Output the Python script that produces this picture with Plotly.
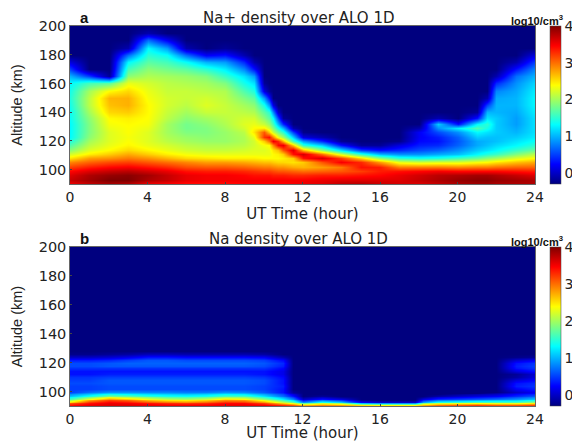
import numpy as np
import plotly.graph_objects as go

FLOOR = -0.3
TICK_HOURS = [0, 4, 8, 12, 16, 20, 24]
TICK_ALT = [100, 120, 140, 160, 180, 200]
TICK_CBAR = [0, 1, 2, 3, 4]
JET = [[0, "#00007f"], [0.125, "#0000ff"], [0.375, "#00ffff"], [0.625, "#ffff00"],
       [0.875, "#ff0000"], [1, "#7f0000"]]

# ---- Panel a: Na+ (log10 density)
alt_a = [90, 93, 96, 99, 102, 105, 108, 111, 114, 117, 120, 123, 126, 129, 132, 136, 140, 145,
         150, 155, 160, 165, 170, 175, 180, 185, 190, 195, 200]
hours_a = [0, 1, 2, 3, 4, 5, 6, 7, 8, 9, 9.5, 10, 10.25, 10.5, 10.75, 11, 11.5, 12, 13, 14, 15, 16,
           17, 18, 19, 20, 21, 21.5, 22, 23, 24]
profiles_a = [
    [3.5, 3.7, 3.6, 3.45, 3.2, 2.9, 2.5, 2.2, 1.9, 1.65, 1.45, 1.3, 1.3, 1.3, 1.3, 1.35, 1.35, 1.4, 1.45, 1.4, 1.3, 1.0, .5, .1, -.3],
    [3.7, 3.85, 3.8, 3.6, 3.35, 3.05, 2.8, 2.45, 2.25, 2.1, 2.0, 1.9, 1.85, 1.85, 1.85, 1.9, 2.0, 2.1, 2.1, 2.0, 1.6, .5, -.3],
    [3.8, 4.0, 3.9, 3.7, 3.45, 3.15, 2.85, 2.6, 2.4, 2.3, 2.25, 2.25, 2.25, 2.3, 2.35, 2.4, 2.55, 2.65, 2.7, 2.4, 1.7, -.2, -.3],
    [3.75, 4.0, 3.95, 3.75, 3.5, 3.2, 2.95, 2.75, 2.55, 2.42, 2.38, 2.35, 2.38, 2.38, 2.4, 2.45, 2.6, 2.72, 2.72, 2.55, 2.3, 1.9, 1.6, 1.3, .7, -.1, -.3],
    [3.5, 3.8, 3.85, 3.65, 3.4, 3.1, 2.85, 2.6, 2.42, 2.3, 2.25, 2.25, 2.25, 2.3, 2.35, 2.38, 2.4, 2.4, 2.35, 2.3, 2.2, 2.05, 1.9, 1.7, 1.5, 1.3, .7, -.1, -.3],
    [3.45, 3.7, 3.7, 3.55, 3.3, 3.0, 2.7, 2.45, 2.3, 2.2, 2.1, 2.05, 2.0, 2.0, 2.0, 2.1, 2.15, 2.2, 2.2, 2.15, 2.1, 2.0, 1.8, 1.6, 1.35, .9, .2, -.3],
    [3.4, 3.55, 3.55, 3.4, 3.15, 2.9, 2.55, 2.35, 2.2, 2.1, 2.0, 1.95, 1.85, 1.8, 1.8, 1.9, 2.0, 2.1, 2.15, 2.15, 2.05, 1.95, 1.7, 1.35, .7, -.1, -.3],
    [3.4, 3.5, 3.5, 3.35, 3.1, 2.8, 2.5, 2.3, 2.15, 2.05, 1.95, 1.9, 1.85, 1.85, 1.9, 2.0, 2.15, 2.25, 2.2, 2.1, 2.0, 1.85, 1.5, 1.0, .2, -.3],
    [3.4, 3.5, 3.5, 3.35, 3.1, 2.8, 2.45, 2.3, 2.15, 2.05, 1.95, 1.95, 1.95, 2.0, 2.05, 2.1, 2.15, 2.15, 2.1, 2.05, 1.85, 1.55, 1.25, .9, .3, -.2, -.3],
    [3.45, 3.5, 3.45, 3.3, 3.05, 2.75, 2.45, 2.3, 2.2, 2.1, 2.05, 2.05, 2.1, 2.2, 2.25, 2.2, 2.1, 2.0, 1.85, 1.65, 1.4, 1.2, .8, .4, -.1, -.3],
    [3.45, 3.5, 3.4, 3.25, 3.0, 2.7, 2.45, 2.3, 2.25, 2.2, 2.2, 2.3, 2.5, 2.4, 2.3, 2.2, 2.05, 1.9, 1.7, 1.45, 1.2, .9, .3, -.1, -.3],
    [3.45, 3.5, 3.4, 3.2, 2.95, 2.65, 2.4, 2.3, 2.25, 2.35, 2.6, 3.25, 3.1, 2.45, 2.15, 1.9, 1.7, 1.4, .9, .1, -.2, -.3],
    [3.45, 3.5, 3.4, 3.2, 2.95, 2.65, 2.4, 2.3, 2.3, 2.4, 3.0, 3.4, 2.6, 2.2, 1.95, 1.7, 1.5, .9, .3, -.2, -.3],
    [3.45, 3.5, 3.35, 3.15, 2.9, 2.6, 2.4, 2.4, 2.5, 2.9, 3.55, 2.9, 2.15, 1.85, 1.6, 1.3, .8, .1, -.3],
    [3.45, 3.5, 3.35, 3.1, 2.85, 2.55, 2.4, 2.45, 2.65, 3.45, 3.3, 2.3, 1.8, 1.4, 1.0, .5, .0, -.3],
    [3.45, 3.5, 3.35, 3.1, 2.85, 2.55, 2.45, 2.6, 3.1, 3.55, 2.7, 2.0, 1.5, 1.0, .4, -.2, -.3],
    [3.5, 3.5, 3.3, 3.05, 2.75, 2.5, 2.6, 3.4, 3.6, 2.6, 1.6, 1.1, .5, -.1, -.3],
    [3.55, 3.5, 3.3, 3.0, 2.7, 2.6, 3.4, 3.65, 2.7, 1.5, .9, .1, -.25, -.3],
    [3.6, 3.55, 3.35, 3.05, 2.8, 3.1, 3.65, 3.0, 1.9, 1.1, .4, -.1, -.3],
    [3.75, 3.6, 3.35, 3.1, 2.95, 3.5, 3.2, 2.2, 1.2, .3, -.2, -.3],
    [3.8, 3.6, 3.4, 3.2, 3.4, 3.3, 2.55, 1.5, .5, -.2, -.3],
    [3.7, 3.6, 3.45, 3.35, 3.35, 2.8, 1.9, 1.0, .3, -.2, -.3],
    [3.65, 3.6, 3.55, 3.4, 2.95, 2.3, 1.5, .85, .4, .1, -.25, -.3],
    [3.6, 3.7, 3.65, 3.45, 2.95, 2.2, 1.4, .85, .55, .35, .25, .2, .2, -.1, -.3],
    [3.7, 3.8, 3.75, 3.5, 2.95, 2.25, 1.45, .95, .65, .4, .3, .35, .55, .85, 1.1, -.1, -.3],
    [3.8, 3.9, 3.8, 3.45, 2.9, 2.25, 1.6, 1.05, .85, .65, .6, .65, .85, 1.25, .3, -.3],
    [3.85, 3.95, 3.85, 3.45, 2.95, 2.35, 1.75, 1.3, 1.1, .95, .95, 1.1, 1.3, 1.65, 1.3, .3, -.2, -.3],
    [3.85, 3.95, 3.85, 3.45, 2.95, 2.4, 1.9, 1.45, 1.2, 1.05, 1.0, 1.05, 1.2, 1.4, 1.5, 1.2, 1.0, .5, -.1, -.3],
    [3.8, 3.9, 3.8, 3.45, 3.0, 2.5, 2.0, 1.55, 1.3, 1.15, 1.05, 1.05, 1.1, 1.1, 1.1, 1.1, 1.0, 1.0, .95, .8, .4, -.1, -.3],
    [3.8, 3.85, 3.7, 3.4, 3.05, 2.65, 2.25, 1.85, 1.55, 1.3, 1.2, 1.1, 1.0, .95, .9, .9, .95, 1.0, 1.0, .95, .85, .7, .3, -.1, -.3],
    [3.8, 3.8, 3.6, 3.35, 3.05, 2.75, 2.4, 2.1, 1.75, 1.5, 1.35, 1.25, 1.2, 1.2, 1.2, 1.2, 1.25, 1.3, 1.3, 1.25, 1.15, 1.0, .8, .5, .1, -.3],
]

# ---- Panel b: Na (log10 density)
alt_b = [90, 91, 92, 93, 94, 95, 96, 97, 98, 99, 100, 102, 104, 106, 108, 110, 112, 114, 116,
         118, 120, 122, 124, 126, 128, 200]
hours_b = [0, 1, 2, 3, 4, 5, 6, 7, 8, 9, 10, 11, 11.5, 12, 13, 14, 15, 16, 17, 17.8, 18.2, 19, 20,
           21, 22, 23, 24]
profiles_b = [
    [3.5, 3.4, 3.1, 2.5, 2.0, 1.6, 1.3, 1.05, .85, .65, .5, .5, .5, .55, .5, .45, .3, .3, .45, .55, .55, .35, .0, -.25, -.3],
    [3.6, 3.55, 3.4, 3.2, 2.8, 2.3, 1.8, 1.4, 1.1, .9, .7, .5, .5, .55, .5, .45, .3, .3, .45, .55, .55, .35, .0, -.25, -.3],
    [3.6, 3.6, 3.55, 3.45, 3.2, 2.8, 2.3, 1.8, 1.4, 1.1, .85, .55, .55, .6, .6, .5, .35, .3, .45, .6, .6, .4, .05, -.2, -.3],
    [3.6, 3.6, 3.5, 3.35, 3.05, 2.6, 2.1, 1.7, 1.3, 1.05, .85, .55, .55, .6, .6, .5, .35, .3, .45, .6, .65, .5, .15, -.15, -.3],
    [3.6, 3.55, 3.4, 3.1, 2.7, 2.3, 1.9, 1.5, 1.2, 1.0, .8, .55, .55, .6, .6, .5, .35, .3, .45, .6, .65, .6, .3, -.05, -.3],
    [3.6, 3.5, 3.3, 2.95, 2.5, 2.1, 1.7, 1.4, 1.15, .95, .8, .55, .55, .6, .6, .5, .35, .3, .45, .6, .65, .6, .3, -.05, -.3],
    [3.6, 3.5, 3.25, 2.85, 2.45, 2.0, 1.65, 1.35, 1.1, .9, .75, .55, .55, .6, .6, .5, .35, .3, .45, .6, .65, .55, .25, -.1, -.3],
    [3.6, 3.5, 3.3, 3.0, 2.6, 2.15, 1.75, 1.4, 1.15, .95, .75, .55, .55, .6, .6, .5, .35, .3, .45, .6, .65, .55, .25, -.1, -.3],
    [3.6, 3.55, 3.45, 3.25, 2.9, 2.5, 2.0, 1.6, 1.3, 1.05, .85, .55, .55, .6, .6, .5, .35, .3, .45, .6, .65, .55, .25, -.1, -.3],
    [3.6, 3.55, 3.45, 3.2, 2.85, 2.4, 1.95, 1.6, 1.25, 1.0, .8, .55, .55, .6, .6, .5, .35, .3, .45, .6, .65, .55, .25, -.1, -.3],
    [3.6, 3.5, 3.2, 2.8, 2.3, 1.9, 1.5, 1.2, .95, .75, .6, .5, .5, .55, .55, .45, .3, .3, .45, .55, .6, .5, .2, -.15, -.3],
    [3.55, 3.3, 2.6, 2.1, 1.6, 1.25, .95, .7, .55, .4, .3, .3, .35, .3, .3, .25, .15, .15, .25, .35, .4, .25, -.1, -.3],
    [3.5, 3.1, 2.3, 1.7, 1.2, .8, .5, .3, .1, -.1, -.2, -.3],
    [3.4, 2.7, 1.7, .8, .3, .0, -.2, -.3],
    [3.4, 2.9, 2.2, 1.4, .8, .3, .0, -.2, -.3],
    [3.4, 2.8, 2.0, 1.1, .5, .1, -.2, -.3],
    [3.3, 2.5, 1.1, .2, -.2, -.3],
    [3.3, 2.4, .9, .0, -.3],
    [3.3, 2.4, .9, .0, -.3],
    [3.3, 2.4, .9, .0, -.3],
    [3.4, 2.7, 1.9, .9, .4, .1, -.2, -.3],
    [3.4, 3.0, 2.2, 1.4, .8, .4, .1, -.15, -.3],
    [3.45, 3.1, 2.3, 1.5, .9, .5, .2, .0, -.2, -.3],
    [3.5, 3.2, 2.4, 1.6, 1.0, .6, .3, .1, -.1, -.3],
    [3.5, 3.1, 2.3, 1.6, 1.1, .7, .4, .2, .0, -.15, -.3],
    [3.5, 3.1, 2.3, 1.6, 1.15, .85, .6, .4, .25, .1, .0, .2, .35, .3, .1, -.15, -.2, .1, .3, .35, .3, .05, -.25, -.3],
    [3.5, 3.2, 2.5, 1.9, 1.4, 1.05, .8, .6, .4, .25, .2, .35, .45, .4, .25, .1, .05, .3, .45, .5, .45, .2, -.2, -.3],
]


def grid(profiles, levels):
    """Rows that stop early sit on the floor of the scale up to the top of the panel."""
    rows = [list(p) + [FLOOR] * (len(levels) - len(p)) for p in profiles]
    return np.array(rows).T


FONT = "DejaVu Sans"
FONT_NARROW = "Liberation Sans"
INK = "#222"
W, H = 572, 442
X0, X1 = 70 / W, 535 / W
CB_X = 550 / W
PANELS = [(26, 184), (247, 406)]


def dom(top, bottom):
    return [1 - bottom / H, 1 - top / H]


fig = go.Figure()
data = [(hours_a, alt_a, profiles_a), (hours_b, alt_b, profiles_b)]
for i, ((h, alt, prof), (top, bottom)) in enumerate(zip(data, PANELS)):
    d = dom(top, bottom)
    fig.add_trace(go.Heatmap(
        x=h, y=alt, z=grid(prof, alt), zmin=FLOOR, zmax=4, zsmooth="best", colorscale=JET,
        xaxis=f"x{i + 1}" if i else "x", yaxis=f"y{i + 1}" if i else "y",
        colorbar=dict(x=CB_X, xanchor="left", y=d[0], yanchor="bottom", len=d[1] - d[0],
                      lenmode="fraction", thickness=11, thicknessmode="pixels",
                      tickvals=TICK_CBAR, ticks="", xpad=0, ypad=0, outlinewidth=0.5,
                      outlinecolor="#444", tickfont=dict(family=FONT, size=14, color=INK))))

axis_x = dict(range=[0, 24], tickvals=TICK_HOURS, ticks="inside", ticklen=2, tickwidth=0.5,
              tickcolor="#444", showline=True, mirror=True, linewidth=0.5, linecolor="#666",
              showgrid=False, zeroline=False, tickfont=dict(family=FONT, size=14, color=INK))
axis_y = dict(range=[90, 200], tickvals=TICK_ALT, ticks="inside", ticklen=2, tickwidth=0.5,
              tickcolor="#444", showline=True, mirror=True, linewidth=0.5, linecolor="#666",
              showgrid=False, zeroline=False, tickfont=dict(family=FONT, size=14.5, color=INK),
              title=dict(text="Altitude (km)", standoff=12, font=dict(family=FONT_NARROW, size=14.5, color=INK)))
XTITLE = "UT Time (hour)"
XTITLE_FONT = dict(family=FONT, size=15, color=INK)

annots = []
TITLES = ["Na+ density over ALO 1D", "Na density over ALO 1D"]
LETTERS = ["a", "b"]
for (top, _), title, letter in zip(PANELS, TITLES, LETTERS):
    yt = 1 - (top - 8) / H
    annots.append(dict(text=title, x=298 / W, y=yt, yanchor="middle", xref="paper", yref="paper",
                       showarrow=False, font=dict(family=FONT, size=15, color=INK)))
    annots.append(dict(text=f"<b>{letter}</b>", x=78 / W, y=yt, yanchor="middle", xref="paper",
                       yref="paper", showarrow=False, font=dict(family=FONT_NARROW, size=15, color="#111")))
    annots.append(dict(text="<b>log10/cm<sup>3</sup></b>", x=565 / W, xanchor="right", y=1 - (top - 6) / H,
                       yanchor="middle", xref="paper", yref="paper", showarrow=False,
                       font=dict(family=FONT_NARROW, size=11, color="#111")))

fig.update_layout(
    width=W, height=H, margin=dict(l=0, r=0, t=0, b=0, autoexpand=False),
    paper_bgcolor="white", plot_bgcolor="white",
    xaxis=dict(axis_x, domain=[X0, X1], anchor="y",
               title=dict(text=XTITLE, standoff=3, font=XTITLE_FONT)),
    yaxis=dict(axis_y, domain=dom(*PANELS[0]), anchor="x"),
    xaxis2=dict(axis_x, domain=[X0, X1], anchor="y2",
                title=dict(text=XTITLE, standoff=7, font=XTITLE_FONT)),
    yaxis2=dict(axis_y, domain=dom(*PANELS[1]), anchor="x2"),
    annotations=annots,
)
fig.write_html("out.html", config={"displayModeBar": False},
               post_script="document.body.style.margin='0';")
